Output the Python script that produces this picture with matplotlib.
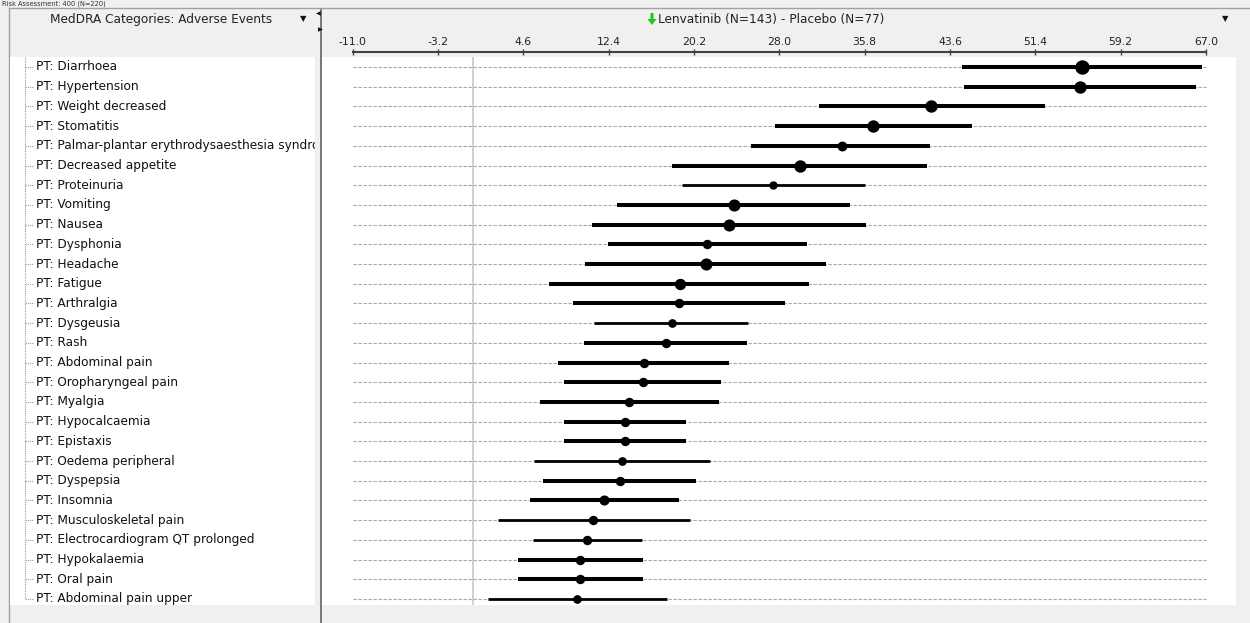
import matplotlib
matplotlib.use("Agg")
import matplotlib.pyplot as plt
from matplotlib.patches import Polygon

# ---------------- data ----------------
terms = [
    "Diarrhoea", "Hypertension", "Weight decreased", "Stomatitis",
    "Palmar-plantar erythrodysaesthesia syndrome", "Decreased appetite",
    "Proteinuria", "Vomiting", "Nausea", "Dysphonia", "Headache", "Fatigue",
    "Arthralgia", "Dysgeusia", "Rash", "Abdominal pain", "Oropharyngeal pain",
    "Myalgia", "Hypocalcaemia", "Epistaxis", "Oedema peripheral", "Dyspepsia",
    "Insomnia", "Musculoskeletal pain", "Electrocardiogram QT prolonged",
    "Hypokalaemia", "Oral pain", "Abdominal pain upper",
]
risk_diff = [55.7, 55.5, 41.9, 36.6, 33.7, 29.9, 27.4, 23.9, 23.4, 21.4, 21.3,
             18.9, 18.8, 18.2, 17.6, 15.6, 15.5, 14.3, 13.9, 13.9, 13.6, 13.4,
             12.0, 11.0, 10.4, 9.8, 9.8, 9.5]
ci_low = [44.7, 44.85, 31.6, 27.6, 25.4, 18.2, 19.1, 13.2, 10.9, 12.3, 10.2,
          6.9, 9.1, 11.1, 10.1, 7.8, 8.3, 6.1, 8.3, 8.3, 5.6, 6.4,
          5.2, 2.3, 5.5, 4.1, 4.1, 1.4]
ci_high = [66.6, 66.1, 52.3, 45.65, 41.8, 41.5, 35.8, 34.5, 35.9, 30.5, 32.3,
           30.7, 28.5, 25.1, 25.0, 23.4, 22.7, 22.5, 19.5, 19.5, 21.7, 20.4,
           18.8, 19.8, 15.4, 15.5, 15.5, 17.7]
tick_values = [-11.0, -3.2, 4.6, 12.4, 20.2, 28.0, 35.8, 43.6, 51.4, 59.2, 67.0]
column_title = "Lenvatinib (N=143) - Placebo (N=77)"
category_title = "MedDRA Categories: Adverse Events"
top_caption = "Risk Assessment: 400 (N=220)"

# style per row (marker diameter in px, line width class)
marker_px = [13, 11, 11, 11, 8.5, 11, 7, 10.7, 10.7, 8, 10.7, 10, 8, 7.3, 8,
             8, 8, 8, 8, 8, 7.3, 8, 8.7, 8, 8, 8, 8, 7.3]
thin_line = [False, False, False, False, False, False, True, False, False,
             False, False, False, False, True, False, False, False, False,
             False, False, True, False, False, True, True, False, False, True]

# ---------------- layout ----------------
W, H = 1250, 623
fig = plt.figure(figsize=(W / 100, H / 100), dpi=100)
fig.patch.set_facecolor("#f0f0f0")


def rect(x0, y0, x1, y1):
    return [x0 / W, 1 - y1 / H, (x1 - x0) / W, (y1 - y0) / H]


FONT = "DejaVu Sans"

# background axes in pixel coordinates
bg = fig.add_axes([0, 0, 1, 1])
bg.set_xlim(0, W)
bg.set_ylim(H, 0)
bg.axis("off")
bg.set_zorder(0)

# borders / splitter
bg.plot([9, W], [7.5, 7.5], color="#a0a0a0", lw=1)
bg.plot([9, 9], [7.5, H], color="#a0a0a0", lw=1)
bg.fill_between([319.5, 322], [7.5, 7.5], [H, H], color="#7a7a7a", lw=0)
bg.text(2, 3.3, top_caption, fontsize=4.8, family=FONT, color="#303030",
        va="center", ha="left")
# header texts
bg.text(161, 19, category_title, fontsize=8.7, family=FONT, color="#222222",
        ha="center", va="center")
bg.text(303, 19, "\u25BC", fontsize=6, family=FONT, color="#111111",
        ha="center", va="center")
bg.text(318, 14, "\u25C0", fontsize=4.5, family=FONT, color="#111111",
        ha="center", va="center")
bg.text(320, 30, "\u25B6", fontsize=4.5, family=FONT, color="#111111",
        ha="center", va="center")
# green down arrow
bg.add_patch(Polygon([(650.5, 13), (653.5, 13), (653.5, 19), (656.5, 19),
                      (652, 25), (647.5, 19), (650.5, 19)],
                     closed=True, facecolor="#1ec81e", edgecolor="none"))
bg.text(658, 19, column_title, fontsize=8.7, family=FONT, color="#222222",
        ha="left", va="center")
bg.text(1225, 19, "\u25BC", fontsize=6, family=FONT, color="#111111",
        ha="center", va="center")

n = len(terms)
rows = list(range(n))
row_top_px, row_step_px = 67.0, 19.7
ylim = (n - 1 + (605 - (row_top_px + (n - 1) * row_step_px)) / row_step_px,
        -(row_top_px - 57) / row_step_px)

# left panel
left = fig.add_axes(rect(10, 57, 315, 605))
left.set_zorder(1)
left.set_facecolor("white")
left.set_xlim(10, 315)
left.set_ylim(*ylim)
for s in left.spines.values():
    s.set_visible(False)
left.set_xticks([])
left.set_yticks([])
left.plot([25, 25], [ylim[1], n - 1], color="#9a9a9a", lw=0.8,
          linestyle=(0, (1, 1)))
for i, t in zip(rows, terms):
    left.plot([25, 34], [i, i], color="#9a9a9a", lw=0.8, linestyle=(0, (1, 1)))
    left.text(36, i, "PT: " + t, fontsize=8.7, family=FONT, color="#111111",
              ha="left", va="center", clip_on=True)

# main forest plot panel
px_per_unit = (1206 - 352.7) / 78.0
xmin = -11 - (352.7 - 322) / px_per_unit
xmax = 67 + (1236 - 1206) / px_per_unit
ax = fig.add_axes(rect(322, 57, 1236, 605))
ax.set_zorder(2)
ax.set_facecolor("white")
ax.set_xlim(xmin, xmax)
ax.set_ylim(*ylim)
for name in ("left", "right", "bottom"):
    ax.spines[name].set_visible(False)
ax.spines["top"].set_position(("outward", 3.3))
ax.spines["top"].set_bounds(tick_values[0], tick_values[-1])
ax.spines["top"].set_color("#404040")
ax.spines["top"].set_linewidth(1.5)
ax.xaxis.tick_top()
ax.set_xticks(tick_values)
ax.set_xticklabels([f"{v:.1f}" for v in tick_values], fontsize=7.8,
                   family=FONT, color="#222222")
ax.tick_params(axis="x", direction="inout", length=5, width=1,
               color="#404040", pad=1.5)
ax.set_yticks([])

ax.axvline(0, color="#c8c8c8", lw=1.2, zorder=1)
for i in rows:
    ax.plot([tick_values[0], tick_values[-1]], [i, i], color="#a8a8a8",
            lw=0.8, linestyle=(0, (3, 1.5)), zorder=2)
for i in rows:
    lw = 2.0 if thin_line[i] else 2.9
    ax.plot([ci_low[i], ci_high[i]], [i, i], color="black", lw=lw,
            solid_capstyle="butt", zorder=3)
    ax.plot(risk_diff[i], i, "o", color="black",
            markersize=marker_px[i] * 0.72, zorder=4)

fig.savefig("out.png", dpi=100, facecolor=fig.get_facecolor())
